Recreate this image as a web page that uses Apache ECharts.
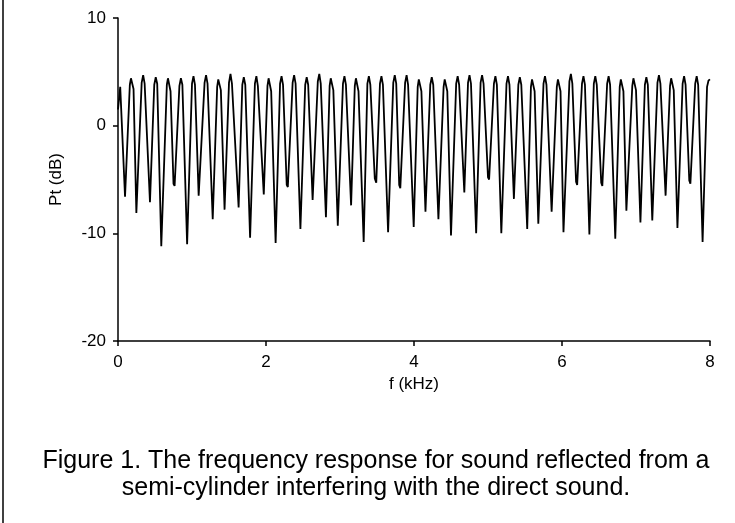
<!DOCTYPE html>
<html>
<head>
<meta charset="utf-8">
<script src="https://cdn.jsdelivr.net/npm/echarts@6/dist/echarts.min.js"></script>
<style>
  html, body { margin: 0; padding: 0; background: #fff; }
  #chart { width: 735px; height: 523px; }
</style>
</head>
<body>
<div id="chart"></div>
<script>
    // frequency response as [f (kHz), Pt (dB)]
    var band0 = [
        [0, 1.5], [0.03, 3.6], [0.095, -6.6],
        [0.16, 3.8], [0.175, 4.4], [0.19, 4.4], [0.21, 3.4], [0.248, -8.1],
        [0.32, 4.0], [0.34, 4.7], [0.36, 3.9], [0.432, -7.1],
        [0.49, 3.8], [0.51, 4.5], [0.53, 3.9], [0.585, -11.2],
        [0.66, 3.8], [0.675, 4.4], [0.69, 4.3], [0.71, 3.2], [0.75, -5.4], [0.765, -5.6],
        [0.83, 3.7], [0.85, 4.4], [0.87, 3.8], [0.934, -11.0],
        [1.0, 3.9], [1.02, 4.6], [1.04, 3.8], [1.09, -6.5],
        [1.17, 4.0], [1.19, 4.7], [1.21, 3.9], [1.28, -8.7],
        [1.34, 3.6], [1.355, 4.3], [1.37, 4.2], [1.39, 3.3], [1.44, -7.8],
        [1.50, 4.0], [1.52, 4.8], [1.54, 3.9], [1.63, -7.6],
        [1.68, 3.8], [1.70, 4.5], [1.72, 3.8], [1.785, -10.4],
        [1.85, 3.9], [1.87, 4.6], [1.89, 3.7], [1.97, -6.4]
    ];
    var band1 = [
        [2.02, 3.7], [2.035, 4.4], [2.05, 4.3], [2.07, 3.2], [2.13, -10.9],
        [2.19, 3.9], [2.21, 4.6], [2.23, 3.8], [2.28, -5.5], [2.295, -5.7],
        [2.36, 4.0], [2.38, 4.7], [2.40, 3.9], [2.465, -9.6],
        [2.53, 3.8], [2.55, 4.5], [2.57, 3.8], [2.63, -6.9],
        [2.70, 4.1], [2.72, 4.8], [2.74, 3.9], [2.81, -8.5],
        [2.86, 3.7], [2.875, 4.4], [2.89, 4.3], [2.91, 3.3], [2.97, -9.3],
        [3.04, 3.9], [3.06, 4.6], [3.08, 3.8], [3.15, -7.4],
        [3.20, 3.7], [3.215, 4.4], [3.23, 4.3], [3.25, 3.2], [3.32, -10.8],
        [3.37, 3.9], [3.39, 4.6], [3.41, 3.8], [3.47, -4.9], [3.49, -5.3],
        [3.54, 3.9], [3.56, 4.6], [3.58, 3.8], [3.65, -9.9],
        [3.72, 4.0], [3.74, 4.7], [3.76, 3.9], [3.80, -5.5], [3.815, -5.8],
        [3.88, 4.0], [3.90, 4.7], [3.92, 3.8], [3.996, -9.4]
    ];
    var band2 = [
        [4.05, 3.6], [4.065, 4.3], [4.08, 4.3], [4.10, 3.2], [4.155, -8.0],
        [4.22, 3.8], [4.24, 4.5], [4.26, 3.8], [4.33, -8.7],
        [4.40, 3.6], [4.415, 4.3], [4.43, 4.2], [4.45, 3.2], [4.50, -10.2],
        [4.57, 3.9], [4.59, 4.6], [4.61, 3.8], [4.68, -6.2],
        [4.73, 4.0], [4.75, 4.7], [4.77, 3.9], [4.84, -10.0],
        [4.90, 4.0], [4.92, 4.7], [4.94, 3.9], [5.0, -4.8], [5.015, -5.0],
        [5.08, 3.9], [5.10, 4.6], [5.12, 3.8], [5.18, -10.0],
        [5.25, 3.9], [5.27, 4.6], [5.29, 3.8], [5.35, -6.8],
        [5.41, 3.8], [5.43, 4.5], [5.45, 3.8], [5.53, -9.6],
        [5.58, 3.6], [5.595, 4.3], [5.61, 4.3], [5.63, 3.2], [5.68, -9.1],
        [5.75, 3.9], [5.77, 4.6], [5.79, 3.8], [5.86, -8.0],
        [5.93, 3.6], [5.945, 4.3], [5.96, 4.3], [5.98, 3.2], [6.02, -9.9]
    ];
    var band3 = [
        [6.10, 4.1], [6.12, 4.8], [6.14, 3.9], [6.19, -5.2], [6.205, -5.5],
        [6.27, 3.9], [6.29, 4.6], [6.31, 3.8], [6.37, -10.1],
        [6.43, 3.9], [6.45, 4.6], [6.47, 3.8], [6.53, -5.3], [6.545, -5.6],
        [6.61, 3.9], [6.63, 4.6], [6.65, 3.8], [6.72, -10.5],
        [6.78, 3.6], [6.795, 4.3], [6.81, 4.3], [6.83, 3.2], [6.87, -7.9],
        [6.95, 3.7], [6.965, 4.4], [6.98, 4.3], [7.0, 3.3], [7.06, -9.0],
        [7.12, 3.8], [7.14, 4.5], [7.16, 3.8], [7.22, -8.8],
        [7.29, 4.0], [7.31, 4.7], [7.33, 3.9], [7.40, -6.5],
        [7.46, 3.7], [7.475, 4.4], [7.49, 4.3], [7.51, 3.3], [7.56, -9.5],
        [7.63, 3.9], [7.65, 4.6], [7.67, 3.8], [7.72, -5.1], [7.735, -5.4],
        [7.80, 3.9], [7.82, 4.6], [7.84, 3.8], [7.90, -10.8],
        [7.96, 3.6], [7.98, 4.2], [8.0, 4.3]
    ];
    var xTicks = [0, 2, 4, 6, 8];
    var yTicks = [-20, -10, 0, 10];
    var caption = [
        'Figure 1. The frequency response for sound reflected from a',
        'semi-cylinder interfering with the direct sound.'
    ];

    var response = band0.concat(band1, band2, band3);
    var font = 'Liberation Sans, Arial, sans-serif';

    var myChart = echarts.init(document.getElementById('chart'));
    var option = {
        animation: false,
        backgroundColor: '#fff',
        grid: {
            left: 118,
            right: 25,
            top: 18,
            bottom: 182
        },
        xAxis: {
            type: 'value',
            min: xTicks[0],
            max: xTicks[xTicks.length - 1],
            interval: 2,
            name: 'f (kHz)',
            nameLocation: 'middle',
            nameGap: 33,
            nameTextStyle: { color: '#000', fontSize: 17, fontFamily: font },
            axisLine: { onZero: false, lineStyle: { color: '#000', width: 1.5 } },
            axisTick: { show: true, length: 5, lineStyle: { color: '#000', width: 1.5 } },
            axisLabel: { color: '#000', fontSize: 17, fontFamily: font, margin: 13 },
            splitLine: { show: false }
        },
        yAxis: {
            type: 'value',
            min: yTicks[0],
            max: yTicks[yTicks.length - 1],
            interval: 10,
            name: 'Pt (dB)',
            nameLocation: 'middle',
            nameGap: 53,
            nameTextStyle: { color: '#000', fontSize: 17, fontFamily: font },
            axisLine: { show: true, lineStyle: { color: '#000', width: 1.5 } },
            axisTick: { show: true, length: 5, lineStyle: { color: '#000', width: 1.5 } },
            axisLabel: { color: '#000', fontSize: 17, fontFamily: font, margin: 12 },
            splitLine: { show: false }
        },
        graphic: [
            {
                type: 'line',
                shape: { x1: 3, y1: 0, x2: 3, y2: 523 },
                style: { stroke: '#000', lineWidth: 1.5 }
            },
            {
                type: 'text',
                x: 376, y: 461,
                style: {
                    text: caption[0], fill: '#000', fontSize: 25, fontFamily: font,
                    align: 'center', verticalAlign: 'middle'
                }
            },
            {
                type: 'text',
                x: 376, y: 488,
                style: {
                    text: caption[1], fill: '#000', fontSize: 25, fontFamily: font,
                    align: 'center', verticalAlign: 'middle'
                }
            }
        ],
        series: [
            {
                name: 'Pt',
                type: 'line',
                data: response,
                showSymbol: false,
                lineStyle: { color: '#000', width: 1.8 }
            }
        ]
    };
    myChart.setOption(option);
</script>
</body>
</html>
